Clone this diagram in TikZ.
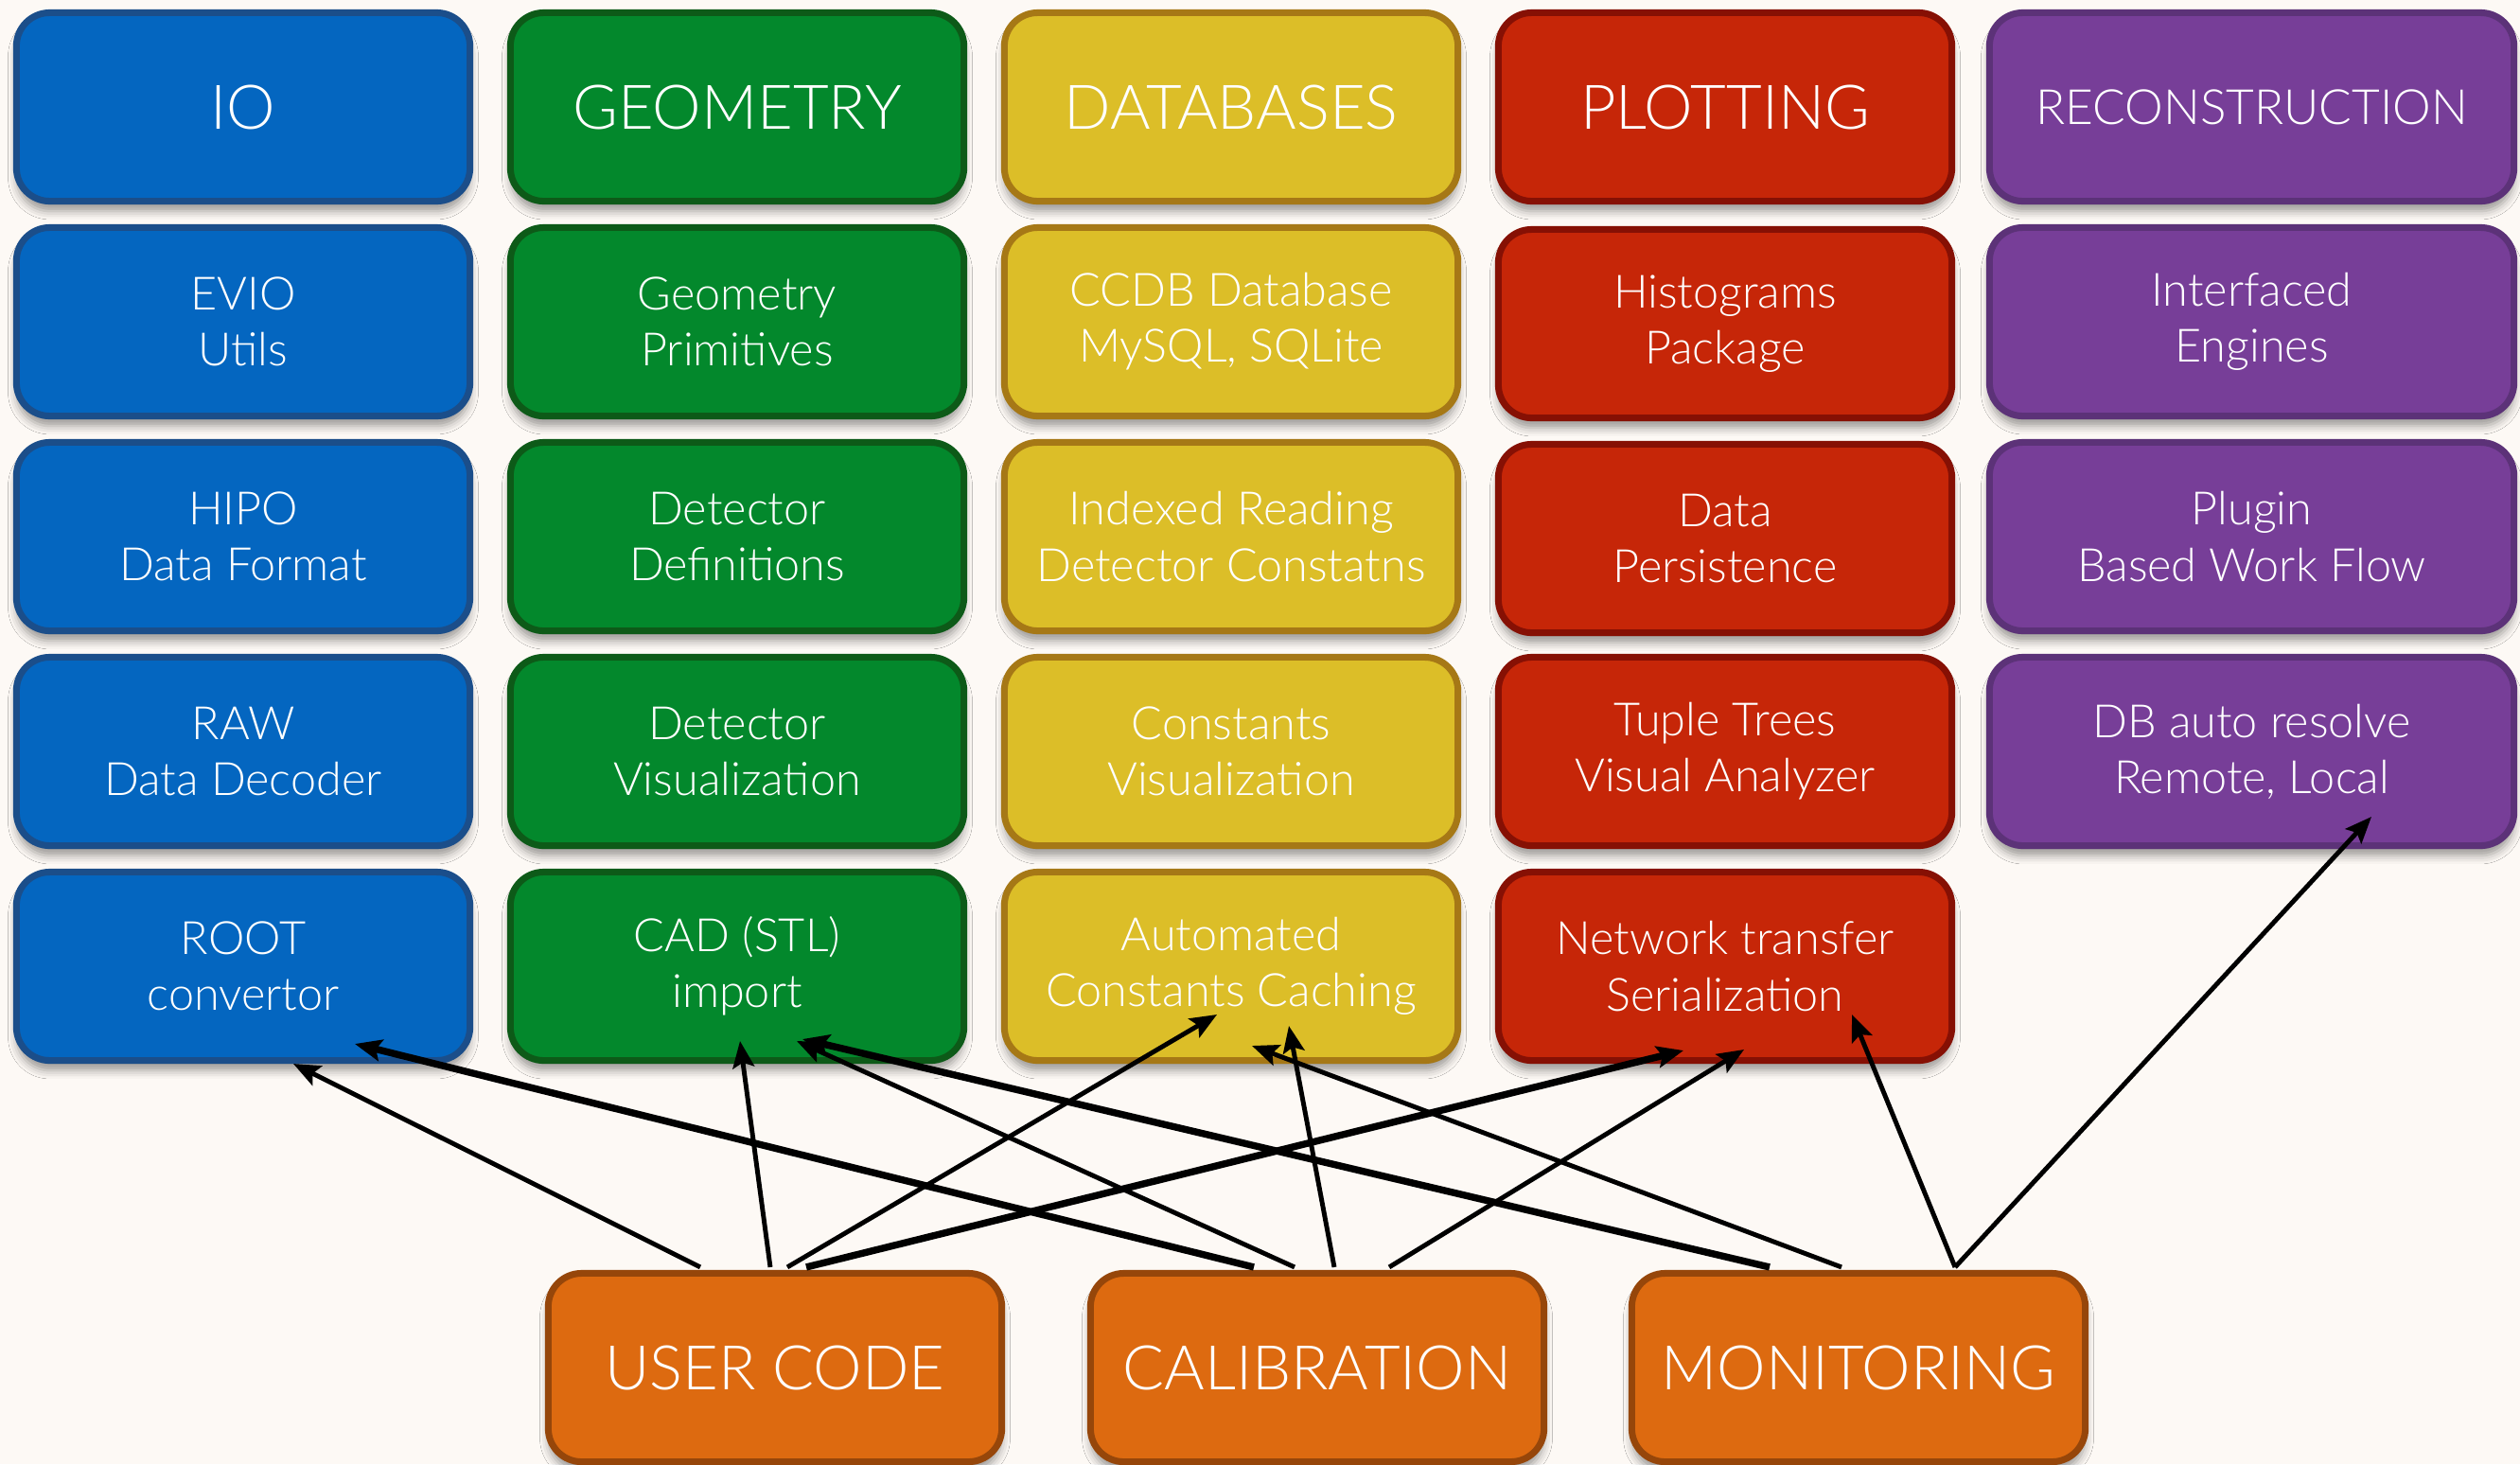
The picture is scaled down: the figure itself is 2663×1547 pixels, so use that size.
\documentclass[tikz,border=0pt]{standalone}
\usepackage{fontspec}
\IfFontExistsTF{Lato Light}{\setmainfont{Lato Light}}{\setmainfont{Liberation Sans}}
\usetikzlibrary{calc,arrows.meta,shadows.blur}

% palette
\definecolor{bgc}{HTML}{FDF9F5}
\definecolor{ioFill}{HTML}{0466C0}   \definecolor{ioLine}{HTML}{1B4E8A}
\definecolor{geoFill}{HTML}{03882C}  \definecolor{geoLine}{HTML}{0D5A18}
\definecolor{dbFill}{HTML}{DCBE28}   \definecolor{dbLine}{HTML}{A67816}
\definecolor{plFill}{HTML}{C62608}   \definecolor{plLine}{HTML}{861004}
\definecolor{reFill}{HTML}{773E98}   \definecolor{reLine}{HTML}{5C3278}
\definecolor{apFill}{HTML}{DD6A10}   \definecolor{apLine}{HTML}{96460A}

\tikzset{
  box/.style={rounded corners=10pt, line width=2pt, minimum width=4.79cm,
    minimum height=1.99cm, align=center, text=white, inner sep=0pt,
    blur shadow={shadow xshift=0pt, shadow yshift=-3pt,
      shadow blur radius=2.5pt, shadow opacity=38}},
  head/.style={font=\fontsize{18.5}{22}\selectfont},
  body/.style={font=\fontsize{13.8}{16.8}\selectfont},
  iobox/.style={box, fill=ioFill, draw=ioLine},
  geobox/.style={box, fill=geoFill, draw=geoLine},
  dbbox/.style={box, fill=dbFill, draw=dbLine},
  plotbox/.style={box, fill=plFill, draw=plLine},
  recobox/.style={box, fill=reFill, draw=reLine, minimum width=5.54cm},
  appbox/.style={box, fill=apFill, draw=apLine},
  conn/.style={-{Stealth[length=8pt,width=6.5pt,inset=1.5pt]}, line width=1.4pt, black},
  connthick/.style={conn, line width=2.1pt},
}

\begin{document}
\begin{tikzpicture}[x=0.01cm, y=-0.01cm]
\fill[bgc] (0,0) rectangle (2663,1547);
\useasboundingbox (0,0) rectangle (2663,1547);

% IO column
\node[iobox,head] (io)   at (257,113)  {IO};
\node[iobox,body] (evio) at (257,340)  {EVIO\\Utils};
\node[iobox,body] (hipo) at (257,567)  {HIPO\\Data Format};
\node[iobox,body] (raw)  at (257,794)  {RAW\\Data Decoder};
\node[iobox,body] (root) at (257,1021) {ROOT\\convertor};

% Geometry column
\node[geobox,head] (geom)    at (779,113)  {GEOMETRY};
\node[geobox,body] (geoprim) at (779,340)  {Geometry\\Primitives};
\node[geobox,body] (detdef)  at (779,567)  {Detector\\Definitions};
\node[geobox,body] (detvis)  at (779,794)  {Detector\\Visualization};
\node[geobox,body] (cad)     at (779,1021) {CAD (STL)\\import};

% Databases column
\node[dbbox,head] (dbs)       at (1301,113)  {DATABASES};
\node[dbbox,body] (ccdb)      at (1301,340)  {CCDB Database\\MySQL, SQLite};
\node[dbbox,body] (idx)       at (1301,567)  {Indexed Reading\\Detector Constatns};
\node[dbbox,body] (constvis)  at (1301,794)  {Constants\\Visualization};
\node[dbbox,body] (autocache) at (1301,1021) {Automated\\Constants Caching};

% Plotting column
\node[plotbox,head] (plot)    at (1823,113)  {PLOTTING};
\node[plotbox,body] (hist)    at (1823,342)  {Histograms\\Package};
\node[plotbox,body] (persist) at (1823,569)  {Data\\Persistence};
\node[plotbox,body] (tuple)   at (1823,794)  {Tuple Trees\\Visual Analyzer};
\node[plotbox,body] (net)     at (1823,1021) {Network transfer\\Serialization};

% Reconstruction column
\node[recobox,font=\fontsize{14.6}{18}\selectfont] (reco) at (2379.5,113) {RECONSTRUCTION};
\node[recobox,body] (iface)  at (2379.5,340) {Interfaced\\Engines};
\node[recobox,body] (plugin) at (2379.5,567) {Plugin\\Based Work Flow};
\node[recobox,body] (dbres)  at (2379.5,794) {DB auto resolve\\Remote, Local};

% Applications
\node[appbox,head] (user)  at (819,1445)  {USER CODE};
\node[appbox,head] (calib) at (1392,1445) {CALIBRATION};
\node[appbox,head] (monit) at (1964,1445) {MONITORING};

% user code dependencies
\draw[conn]      ($(user.north)+(-79,-3)$) -- ($(root.center)+(53,103)$);
\draw[conn]      ($(user.north)+(-5,-3)$)  -- ($(cad.center)+(3,79)$);
\draw[conn]      ($(user.north)+(13,-3)$)  -- ($(autocache.center)+(-15,51)$);
\draw[connthick] ($(user.north)+(33,-3)$)  -- ($(net.center)+(-44,89)$);

% calibration dependencies
\draw[connthick] ($(calib.north)+(-67,-3)$) -- ($(root.center)+(118,82)$);
\draw[conn]      ($(calib.north)+(-24,-3)$) -- ($(cad.center)+(63,79)$);
\draw[conn]      ($(calib.north)+(18,-3)$)  -- ($(autocache.center)+(61,63)$);
\draw[conn]      ($(calib.north)+(76,-3)$)  -- ($(net.center)+(20,88)$);

% monitoring dependencies
\draw[connthick] ($(monit.north)+(-94,-3)$) -- ($(cad.center)+(69,77)$);
\draw[conn]      ($(monit.north)+(-18,-3)$) -- ($(autocache.center)+(22,84)$);
\draw[conn]      ($(monit.north)+(102,-3)$) -- ($(net.center)+(134,51)$);
\draw[conn]      ($(monit.north)+(102,-3)$) -- ($(dbres.center)+(126.5,69)$);
\end{tikzpicture}
\end{document}
